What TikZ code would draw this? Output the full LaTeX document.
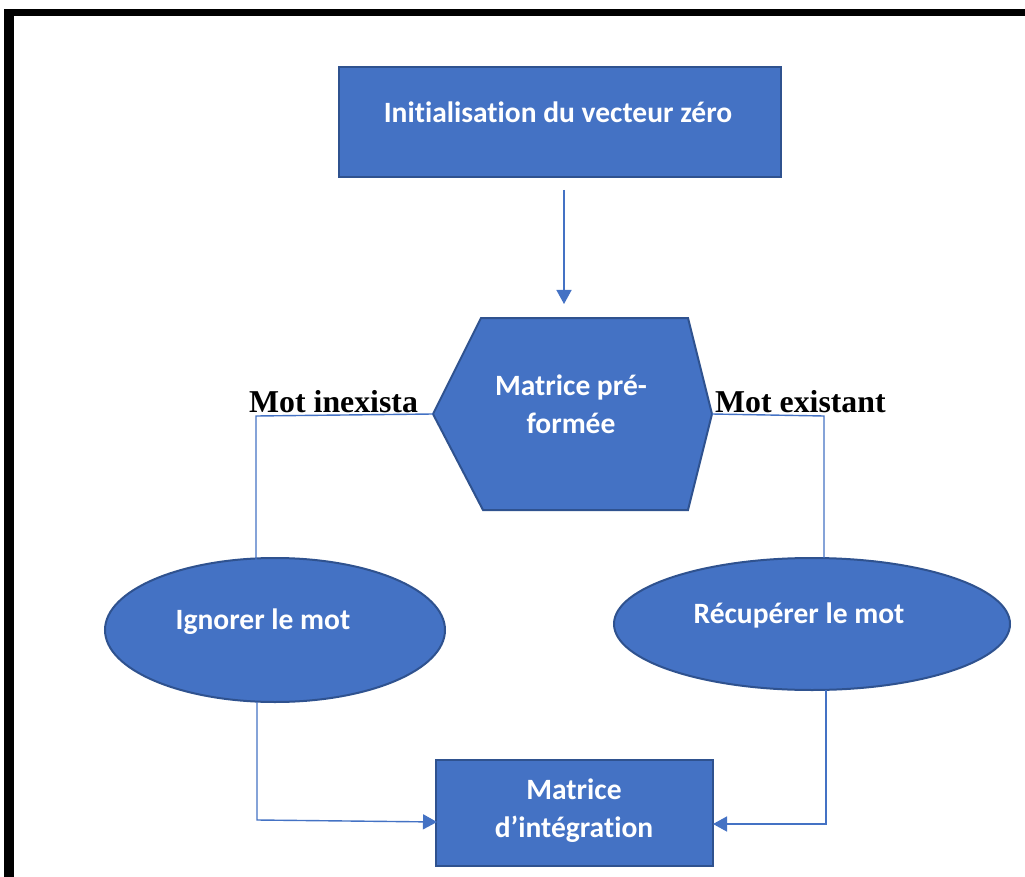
\documentclass[tikz,border=0pt]{standalone}
\usepackage{fontspec}
\setmainfont[Ligatures={ResetAll,NoCommon}]{Carlito}
\newfontfamily\tnr{Liberation Serif}
\usetikzlibrary{shapes.geometric,arrows.meta}
\definecolor{bfill}{HTML}{4472C4}
\definecolor{bdraw}{HTML}{2F528F}
\begin{document}
\begin{tikzpicture}[x=1pt,y=-1pt,
  shapebox/.style={fill=bfill,draw=bdraw,line width=2pt},
  boxtext/.style={text=white,font=\bfseries\fontsize{29.5}{38}\selectfont,align=center},
  conn/.style={draw=bfill,line width=1.4pt},
  arr/.style={conn,-{Triangle[length=14pt,width=15pt]}},
  lab/.style={font=\tnr\bfseries\fontsize{31.8}{34}\selectfont,text=black,inner sep=0pt}]
\useasboundingbox (0,0) rectangle (1025,877);
\fill[white] (0,0) rectangle (1025,877);
% frame
\fill[black] (4,9) rectangle (1025,16);
\fill[black] (4,9) rectangle (14,877);
% top box
\node[shapebox,minimum width=442pt,minimum height=110pt,inner sep=0pt] (init) at (560,122) {};
\node[boxtext] (initt) at (558,112) {Initialisation du vecteur zéro};
% hexagon
\coordinate (hexL) at (433,414);
\coordinate (hexR) at (712,414);
\draw[shapebox] (hexL) -- (481,318) -- (688,318) -- (hexR) -- (688,510) -- (483,510) -- cycle;
\node[boxtext] (hex) at (571,404) {Matrice pré-\\formée};
% ellipses
\node[shapebox,ellipse,minimum width=340pt,minimum height=144pt,inner sep=0pt] (ign) at (275,630) {};
\node[boxtext] (ignt) at (263,622) {Ignorer le mot};
\node[shapebox,ellipse,minimum width=396pt,minimum height=132pt,inner sep=0pt] (rec) at (812,624) {};
\node[boxtext] (rect) at (799,615) {Récupérer le mot};
% bottom box
\node[shapebox,minimum width=277pt,minimum height=106pt,inner sep=0pt] (integ) at (574.5,813) {};
\node[boxtext] (integt) at (574,811) {Matrice\\d'intégration};
% labels
\node[lab,anchor=base west] (lin) at (249,412) {Mot inexista};
\node[lab,anchor=base west] (lex) at (715,412) {Mot existant};
% connectors
\coordinate (a0) at (564,190);
\coordinate (a1) at (564,304);
\draw[arr] (a0) -- (a1);
\coordinate (l1) at (256,416);
\coordinate (l2) at (256,562);
\draw[conn] (hexL) -- (l1) -- (l2);
\coordinate (r1) at (824,416);
\coordinate (r2) at (824,558);
\draw[conn] (hexR) -- (r1) -- (r2);
\coordinate (lb1) at (257,702);
\coordinate (lb2) at (257,820);
\coordinate (lb3) at (437,822);
\draw[arr] (lb1) -- (lb2) -- (lb3);
\coordinate (rb1) at (826,690);
\coordinate (rb2) at (826,824);
\coordinate (rb3) at (713,824);
\draw[arr] (rb1) -- (rb2) -- (rb3);
\end{tikzpicture}
\end{document}
